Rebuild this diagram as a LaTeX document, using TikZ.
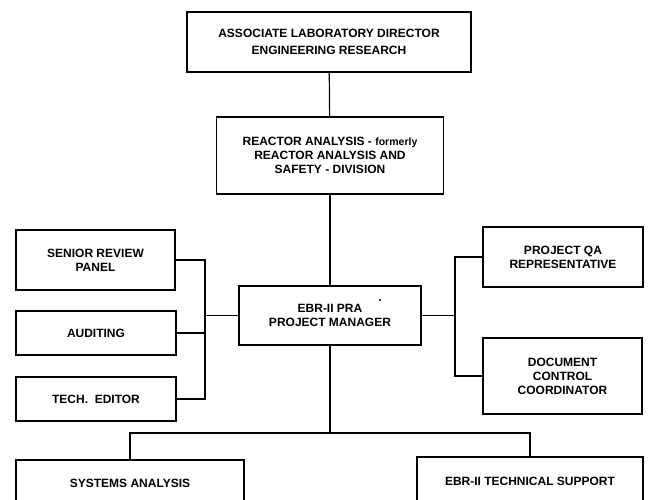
\documentclass[tikz,border=0pt]{standalone}
\usepackage{fontspec}
\setmainfont{Liberation Sans}

\tikzstyle{unit}=[draw,rectangle,align=center,inner sep=0pt,line width=1.2pt,font=\bfseries\fontsize{12}{14}\selectfont]
\tikzstyle{edge} = [draw,-,line width=1.2pt]

\begin{document}
\begin{tikzpicture}[x=1pt,y=-1pt]
\clip (0,0) rectangle (648,500);

\node[unit,minimum width=284pt,minimum height=60pt,font=\bfseries\fontsize{12}{16.5}\selectfont] (dir) at (329,42) {ASSOCIATE LABORATORY DIRECTOR\\ENGINEERING RESEARCH};
\node[unit,minimum width=227pt,minimum height=77pt] (rad) at (330,155.5) {REACTOR ANALYSIS - {\fontsize{10.5}{14}\selectfont formerly}\\REACTOR ANALYSIS AND\\SAFETY - DIVISION};
\node[unit,minimum width=182pt,minimum height=59pt] (pm) at (330,315.5) {EBR-II PRA\\PROJECT MANAGER};
\draw[edge] (dir) to (rad);
\draw[edge] (rad) to (pm);
\fill (380,300) circle (1.2);

\node[unit,minimum width=159pt,minimum height=60pt] (senior) at (95.5,260) {SENIOR REVIEW\\PANEL};
\node[unit,minimum width=160pt,minimum height=44pt] (audit) at (96,333) {AUDITING};
\node[unit,minimum width=160pt,minimum height=44pt] (editor) at (96,399) {TECH.~~EDITOR};
\coordinate (lbus) at (205,399);
\draw[edge] (senior.east) -| (lbus) -- (editor.east);
\draw[edge] (audit.east) -- (audit.east -| lbus);
\draw[edge] (pm.west) -- (pm.west -| lbus);

\node[unit,minimum width=160pt,minimum height=60pt] (qa) at (563,257) {PROJECT QA\\REPRESENTATIVE};
\node[unit,minimum width=159pt,minimum height=76pt] (doc) at (562.5,376) {DOCUMENT\\CONTROL\\COORDINATOR};
\coordinate (rbus) at (455,376);
\draw[edge] (qa.west) -| (rbus) -- (doc.west);
\draw[edge] (pm.east) -- (pm.east -| rbus);

\node[unit,minimum width=228pt,minimum height=46pt] (sysan) at (130,483) {SYSTEMS ANALYSIS};
\node[unit,minimum width=226pt,minimum height=48pt] (ebrts) at (530,481) {EBR-II TECHNICAL SUPPORT};
\coordinate (bbus) at (330,433);
\draw[edge] (pm) to (bbus);
\draw[edge] (sysan.north) |- (bbus) -| (ebrts.north);
\end{tikzpicture}
\end{document}
